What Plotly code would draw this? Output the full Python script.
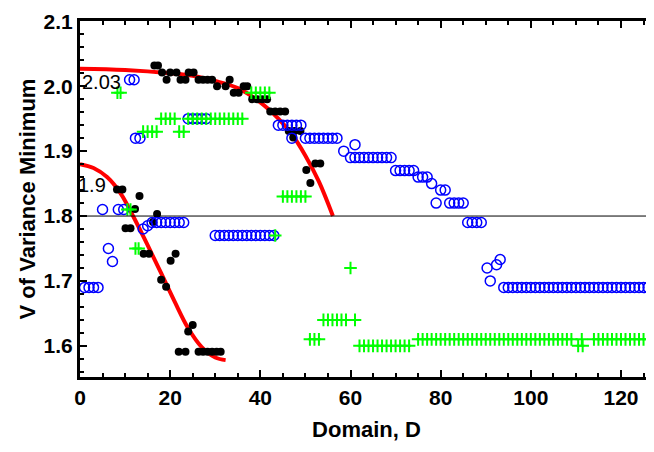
import plotly.graph_objects as go

# ---------------- data ----------------
# fitted red curves
fit_low_x = [0, 3, 6, 9, 12, 15, 18, 21, 24, 27, 30, 32.3]
fit_low_y = [1.880, 1.874, 1.860, 1.835, 1.797, 1.755, 1.712, 1.668, 1.627, 1.598, 1.582, 1.578]
fit_up_x = [0, 10, 20, 25, 30, 35, 40, 44, 47, 50, 53, 56.1]
fit_up_y = [2.027, 2.025, 2.020, 2.016, 2.008, 1.997, 1.975, 1.950, 1.926, 1.893, 1.853, 1.800]

# black dots
blk_x = [16.5, 17.3, 18.2, 19.2, 20.0, 21.4, 22.3, 23.4, 24.1, 25.2,
         26.3, 27.3, 28.3, 29.3, 30.4, 32.3, 33.2, 34.1, 35.2, 36.3, 37.1,
         38.2, 39.3, 40.4, 41.5, 42.2, 43.3, 44.4, 45.5, 46.3, 47.6, 48.9,
         47.3, 50.2, 51.1, 52.2, 53.3,
         8.2, 9.4, 13.2, 12.2, 10.1, 11.2, 17.1, 16.2, 14.1, 15.3, 21.2, 20.1,
         18.0, 19.1, 24.0, 25.0, 21.9, 23.4, 26.3, 27.3, 28.3, 29.3, 30.3, 31.2]
blk_y = [2.032, 2.032, 2.021, 2.010, 2.021, 2.021, 2.010, 2.010, 2.021, 2.021,
         2.010, 2.010, 2.010, 2.010, 2.000, 2.000, 2.010, 1.990, 1.990, 2.000, 2.000,
         1.980, 1.980, 1.980, 1.980, 1.961, 1.961, 1.961, 1.961, 1.931, 1.931, 1.931,
         1.921, 1.871, 1.851, 1.881, 1.881,
         1.841, 1.841, 1.831, 1.811, 1.781, 1.781, 1.803, 1.791, 1.742, 1.742, 1.742, 1.731,
         1.702, 1.691, 1.622, 1.632, 1.591, 1.591, 1.591, 1.591, 1.591, 1.591, 1.591, 1.591]

# blue open circles
blu_x = ([1, 2, 3, 4, 5, 6.3, 7.2, 8.5, 9.7, 11, 12, 12.3, 13.3, 14, 15]
         + list(range(16, 24)) + list(range(24, 29)) + list(range(30, 44))
         + list(range(44, 50)) + [47] + list(range(50, 58)) + [58.5, 61]
         + list(range(60, 70)) + list(range(70, 75)) + [75, 76, 77, 78, 79, 80, 81]
         + [82, 83, 84, 85, 86, 87, 88, 89, 90.3, 91, 92.4, 93.2]
         + list(range(94, 128)))
blu_y = ([1.69, 1.69, 1.69, 1.69, 1.81, 1.75, 1.73, 1.81, 1.81, 2.01, 2.01, 1.92, 1.92, 1.78, 1.785]
         + [1.79] * 8 + [1.95] * 5 + [1.77] * 14
         + [1.94] * 6 + [1.92] + [1.92] * 8 + [1.90, 1.91]
         + [1.89] * 10 + [1.87] * 5 + [1.86, 1.86, 1.86, 1.85, 1.82, 1.84, 1.84]
         + [1.82, 1.82, 1.82, 1.82, 1.79, 1.79, 1.79, 1.79, 1.72, 1.70, 1.725, 1.733]
         + [1.69] * 34)

# green crosses
grn_x = ([8.3, 9.0, 10.5, 11.2, 12.3, 13.0] + [14, 15, 16, 17] + [18, 19, 20, 21]
         + [22, 23] + list(range(24, 37)) + list(range(38, 43)) + [43.3]
         + list(range(45, 51)) + [51, 52, 53] + list(range(54, 60)) + [61, 60]
         + list(range(62, 74)) + list(range(75, 110)) + [110.5, 111.5, 111.3]
         + list(range(114, 128)))
grn_y = ([1.99, 1.99, 1.81, 1.81, 1.75, 1.75] + [1.93] * 4 + [1.95] * 4
         + [1.93] * 2 + [1.95] * 13 + [1.99] * 5 + [1.77]
         + [1.83] * 6 + [1.61] * 3 + [1.64] * 6 + [1.64, 1.72]
         + [1.60] * 12 + [1.61] * 35 + [1.60, 1.60, 1.61]
         + [1.61] * 14)

x_ticks = [0, 20, 40, 60, 80, 100, 120]
y_ticks = [1.6, 1.7, 1.8, 1.9, 2.0, 2.1]
y_tick_text = ["1.6", "1.7", "1.8", "1.9", "2.0", "2.1"]

# ---------------- figure ----------------
fig = go.Figure()
fig.add_trace(go.Scatter(x=fit_low_x, y=fit_low_y, mode="lines",
                         line=dict(color="#ff0000", width=4, shape="spline")))
fig.add_trace(go.Scatter(x=fit_up_x, y=fit_up_y, mode="lines",
                         line=dict(color="#ff0000", width=4, shape="spline")))
fig.add_trace(go.Scatter(x=blk_x, y=blk_y, mode="markers",
                         marker=dict(symbol="circle", size=8, color="black")))
fig.add_trace(go.Scatter(x=blu_x, y=blu_y, mode="markers",
                         marker=dict(symbol="circle-open", size=10, color="#0000ff",
                                     line=dict(width=1.5, color="#0000ff"))))
fig.add_trace(go.Scatter(x=grn_x, y=grn_y, mode="markers",
                         marker=dict(symbol="cross-thin-open", size=9, color="#00ff00",
                                     line=dict(width=2, color="#00ff00"))))

fig.add_shape(type="line", xref="paper", x0=0, x1=1, yref="y", y0=1.8, y1=1.8,
              line=dict(color="black", width=1))

ann_font = dict(family="Liberation Sans, Arial", size=20, color="black")
fig.add_annotation(x=0, y=2.007, text="2.03", showarrow=False, xanchor="left",
                   yanchor="middle", xshift=0, font=ann_font)
fig.add_annotation(x=0, y=1.848, text="1.9", showarrow=False, xanchor="left",
                   yanchor="middle", xshift=-4, font=ann_font)

tick_font = dict(family="Liberation Sans, Arial", size=21, color="black", weight="bold")
title_font = dict(family="Liberation Sans, Arial", size=22, color="black", weight="bold")

# the page body adds an 8 px offset, margins compensate for it
fig.update_layout(
    width=654, height=452,
    margin=dict(l=72, r=9, t=13, b=83),
    paper_bgcolor="white", plot_bgcolor="white",
    showlegend=False,
    xaxis=dict(range=[0, 127.1], tickvals=x_ticks, ticks="inside", ticklen=7, tickwidth=2,
               tickcolor="black", showline=True, linewidth=3, linecolor="black",
               mirror="allticks", showgrid=False, zeroline=False, tickfont=tick_font,
               automargin=False,
               minor=dict(dtick=5, ticks="inside", ticklen=4, tickwidth=2, tickcolor="black",
                          showgrid=False),
               title=dict(text="Domain, D", font=title_font, standoff=14)),
    yaxis=dict(range=[1.552, 2.1005], tickvals=y_ticks, ticktext=y_tick_text, ticks="inside",
               ticklen=7, tickwidth=2, tickcolor="black", showline=True, linewidth=3,
               linecolor="black", showgrid=False, zeroline=False, tickfont=tick_font,
               automargin=False,
               minor=dict(dtick=0.02, tick0=1.6, ticks="inside", ticklen=4, tickwidth=2,
                          tickcolor="black", showgrid=False),
               title=dict(text="V of Variance Minimum", font=title_font, standoff=2)),
)

fig.write_html("out.html")
